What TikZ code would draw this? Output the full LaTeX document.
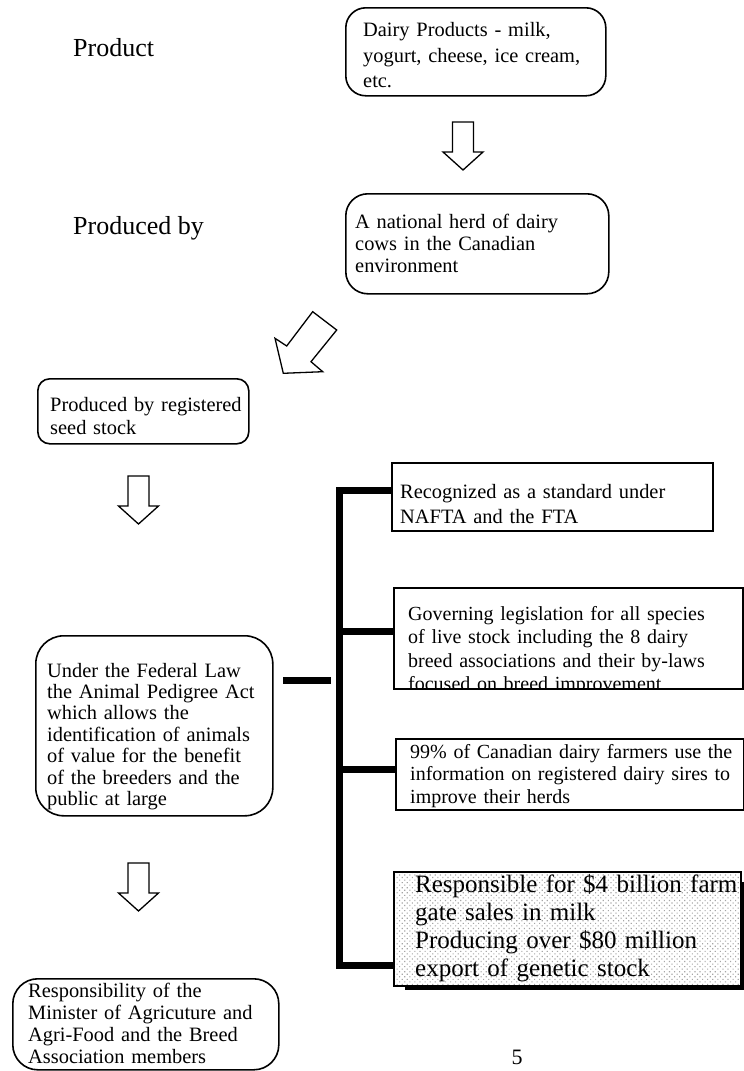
\documentclass[tikz,border=0pt]{standalone}
\usepackage{fontspec}
\setmainfont{Liberation Serif}
\usetikzlibrary{patterns.meta}

\tikzset{
  rbox/.style={draw, line width=1.6pt, rounded corners=#1, inner sep=0pt, anchor=north west},
  sbox/.style={draw, line width=1.6pt, inner sep=0pt, anchor=north west},
  txt/.style={anchor=base west, inner sep=0pt, align=left, text width=360pt},
  body/.style={font=\fontsize{20.4}{#1}\selectfont},
  small/.style={font=\fontsize{20}{#1}\selectfont},
  heading/.style={anchor=base west, inner sep=0pt, font=\fontsize{26}{30}\selectfont},
  blockarrow/.style={draw, line width=1.3pt, fill=white, line join=miter},
  bar/.style={line width=7pt, line join=miter},
  downarrow/.pic={
    \path[blockarrow] (-10.5,0) -- (10.5,0) -- (10.5,30) -- (20,30)
      -- (0,48) -- (-20,30) -- (-10.5,30) -- cycle;
  }
}

\begin{document}
\begin{tikzpicture}[x=1pt,y=-1pt]
\useasboundingbox (0,0) rectangle (744,1071);

% side headings
\node[heading] (lprod) at (73,56) {Product};
\node[heading] (lby) at (73,234) {Produced by};

% top chain
\node[rbox=20pt, minimum width=260pt, minimum height=88pt] (b1) at (345,7) {};
\node[txt, body=25.5] (b1t) at (363,36.5) {Dairy Products - milk,\\yogurt, cheese, ice cream,\\etc.};

\pic at (463,122) {downarrow};

\node[rbox=22pt, minimum width=263pt, minimum height=100pt] (b2) at (345,193) {};
\node[txt, body=22] (b2t) at (355,228) {A national herd of dairy\\cows in the Canadian\\environment};

% slanted block arrow
\path[blockarrow] (312.7,311.7) -- (336.7,330) -- (311,361.7) -- (322.7,371.7)
  -- (283.3,373.3) -- (275,338.3) -- (286.7,346) -- cycle;

\node[rbox=12pt, minimum width=211pt, minimum height=65pt] (b3) at (37,378) {};
\node[txt, body=22.5] (b3t) at (50,411.5) {Produced by registered\\seed stock};

\pic at (138.5,476) {downarrow};

\node[rbox=28pt, minimum width=237pt, minimum height=180pt] (b4) at (35,635) {};
\node[txt, body=21.4] (b4t) at (47,677) {Under the Federal Law\\the Animal Pedigree Act\\which allows the\\identification of animals\\of value for the benefit\\of the breeders and the\\public at large};

\pic at (138.5,863) {downarrow};

\node[rbox=25pt, minimum width=266pt, minimum height=91pt] (b5) at (12,978) {};
\node[txt, body=22] (b5t) at (28,997) {Responsibility of the\\Minister of Agricuture and\\Agri-Food and the Breed\\Association members};

% right-hand column
\node[sbox, minimum width=321pt, minimum height=68pt] (r1) at (391,462) {};
\node[txt, body=25] (r1t) at (400,498) {Recognized as a standard under\\NAFTA and the FTA};

\node[sbox, minimum width=349pt, minimum height=101pt] (r2) at (393,587) {};
\begin{scope}
  \clip (393,587) rectangle (742,688);
  \node[txt, small=23.5] (r2t) at (408,620) {Governing legislation for all species\\of live stock including the 8 dairy\\breed associations and their by-laws\\focused on breed improvement};
\end{scope}

\node[sbox, minimum width=348pt, minimum height=71pt] (r3) at (395,738) {};
\node[txt, small=22.5] (r3t) at (410,758) {99\% of Canadian dairy farmers use the\\information on registered dairy sires to\\improve their herds};

% shaded box with its drop shadow
\fill (405,882) rectangle (744.5,989.5);
\node[sbox, minimum width=347pt, minimum height=114pt, preaction={fill=white},
  pattern={Dots[radius=0.8pt, distance=3.6pt, angle=45]}, pattern color=gray!70] (r4) at (393,871) {};
\node[txt, font=\fontsize{25}{28}\selectfont] (r4t) at (415,892) {Responsible for \$4 billion farm\\gate sales in milk\\Producing over \$80 million\\export of genetic stock};

% bracket joining the right-hand boxes
\coordinate (bt) at (339.5,490);
\coordinate (bb) at (339.5,965);
\coordinate (hub) at (331,680);
\draw[bar] (r1.west |- bt) -- (bt) -- (bb) -- (r4.west |- bb);
\draw[bar] (bt |- 0,631) -- (r2.west |- 0,631);
\draw[bar] (bt |- 0,769) -- (r3.west |- 0,769);
\draw[bar] (283,680) -- (hub);

% page number
\node[anchor=base, inner sep=0pt, font=\fontsize{22}{26}\selectfont] (pg) at (517,1064) {5};
\end{tikzpicture}
\end{document}
